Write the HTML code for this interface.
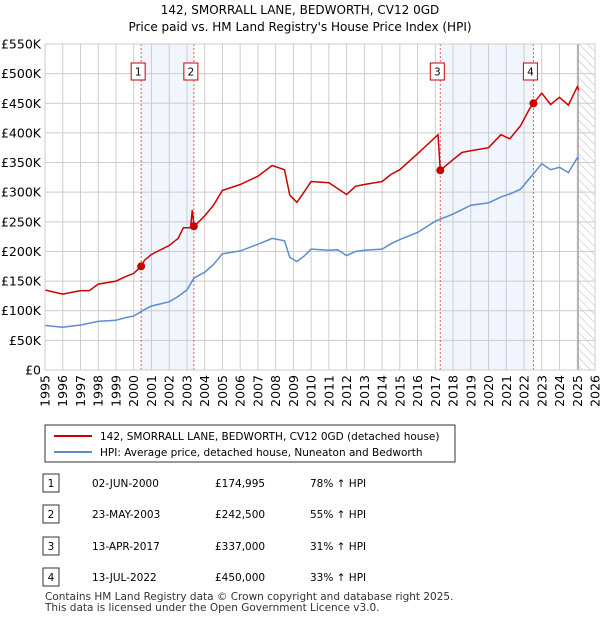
<!DOCTYPE html>
<html><head><meta charset="utf-8"><style>
body{margin:0;background:#fff;font-family:"Liberation Sans","DejaVu Sans",sans-serif;}
svg text{font-family:"DejaVu Sans","Liberation Sans",sans-serif;}
</style></head><body>
<svg width="600" height="620" viewBox="0 0 600 620" xmlns="http://www.w3.org/2000/svg">
<defs><pattern id="hatch" width="6" height="6" patternUnits="userSpaceOnUse" patternTransform="rotate(-45)"><line x1="0" y1="0" x2="0" y2="6" stroke="#bbb" stroke-width="1"/></pattern></defs>
<text x="300" y="14" font-size="12" text-anchor="middle">142, SMORRALL LANE, BEDWORTH, CV12 0GD</text>
<text x="300" y="31" font-size="12" text-anchor="middle">Price paid vs. HM Land Registry's House Price Index (HPI)</text>
<g id="plot"></g>
<g>
<rect x="45" y="425" width="410" height="37" fill="#fff" stroke="#333" stroke-width="1"/>
<line x1="54" y1="436" x2="92" y2="436" stroke="#cc0000" stroke-width="2"/>
<text x="100" y="440" font-size="10.5">142, SMORRALL LANE, BEDWORTH, CV12 0GD (detached house)</text>
<line x1="54" y1="452" x2="92" y2="452" stroke="#5b8bd0" stroke-width="2"/>
<text x="100" y="456" font-size="10.5">HPI: Average price, detached house, Nuneaton and Bedworth</text>
</g>
<g id="table" font-size="10.5"></g>
<text x="45" y="600" font-size="10.5" fill="#333">Contains HM Land Registry data © Crown copyright and database right 2025.</text>
<text x="45" y="611" font-size="10.5" fill="#333">This data is licensed under the Open Government Licence v3.0.</text>
</svg>
<script>
const hpiYears=[1995,1996,1997,1997.5,1998,1999,1999.5,2000,2000.5,2001,2002,2002.5,2003,2003.4,2004,2004.5,2005,2006,2007,2007.8,2008.5,2008.8,2009.2,2009.6,2010,2011,2011.5,2012,2012.5,2013,2014,2014.5,2015,2016,2017,2018,2019,2020,2020.7,2021.2,2021.8,2022.5,2023,2023.5,2024,2024.5,2025,2025.1];
const hpiValues=[75,72,76,79,82,84,88,91,100,108,115,124,135,155,165,178,196,201,212,222,218,190,183,192,204,202,203,193,200,202,204,213,220,232,251,263,278,282,292,297,305,330,348,338,342,333,358,356];
const priceYears=[1995,1996,1997,1997.5,1998,1999,1999.5,2000,2000.42,2000.6,2001,2002,2002.5,2002.8,2003.2,2003.3,2003.4,2004,2004.5,2005,2006,2007,2007.8,2008.5,2008.8,2009.2,2009.6,2010,2011,2012,2012.5,2013,2014,2014.5,2015,2016,2017.15,2017.28,2018,2018.5,2019,2020,2020.7,2021.2,2021.8,2022.3,2022.53,2023,2023.5,2024,2024.5,2025,2025.1];
const priceValues=[135,128,134,134,145,150,157,163,175,185,195,210,222,240,240,270,242,260,278,303,313,327,345,338,295,283,300,318,316,296,310,313,318,330,338,365,397,337,355,367,370,375,397,390,412,440,450,467,448,460,447,478,472];
const saleLabels=["1","2","3","4"];
const saleYears=[2000.42,2003.39,2017.28,2022.53];
const saleValues=[174.995,242.5,337,450];
const saleDates=["02-JUN-2000","23-MAY-2003","13-APR-2017","13-JUL-2022"];
const salePrices=["£174,995","£242,500","£337,000","£450,000"];
const saleHpi=["78% ↑ HPI","55% ↑ HPI","31% ↑ HPI","33% ↑ HPI"];
const yTicks=[0,50,100,150,200,250,300,350,400,450,500,550];
const xTicks=[1995,1996,1997,1998,1999,2000,2001,2002,2003,2004,2005,2006,2007,2008,2009,2010,2011,2012,2013,2014,2015,2016,2017,2018,2019,2020,2021,2022,2023,2024,2025,2026];
const X0=45,X1=595,Y0=370,Y1=44;
const xs=y=>X0+(y-1995)/(2026-1995)*(X1-X0);
const ys=v=>Y0-v/550*(Y0-Y1);
const NS="http://www.w3.org/2000/svg";
const plot=document.getElementById('plot');
function mk(tag,attrs,parent){const e=document.createElementNS(NS,tag);for(const k in attrs)e.setAttribute(k,attrs[k]);(parent||plot).appendChild(e);return e;}
let s1=mk('rect',{x:xs(saleYears[0]),y:Y1,width:xs(saleYears[1])-xs(saleYears[0]),height:Y0-Y1,fill:'#eef3fc',opacity:0.8});


let s2=mk('rect',{x:xs(saleYears[2]),y:Y1,width:xs(saleYears[3])-xs(saleYears[2]),height:Y0-Y1,fill:'#eef3fc',opacity:0.8});


let h=mk('rect',{x:xs(2025.05),y:Y1,width:X1-xs(2025.05),height:Y0-Y1,fill:'url(#hatch)'});


yTicks.forEach(v=>{
 let l=mk('line',{x1:X0,x2:X1,y1:ys(v),y2:ys(v),stroke:'#ccc','stroke-width':1});
 
 
 let t=mk('text',{x:X0-4,y:ys(v)+4.5,'font-size':12.5,'text-anchor':'end'});
 t.textContent=v===0?'£0':'£'+v+'K';
 
 
});
xTicks.forEach(y=>{
 let l=mk('line',{x1:xs(y),x2:xs(y),y1:Y1,y2:Y0,stroke:'#ccc','stroke-width':1});
 
 
 let t=mk('text',{x:0,y:0,'font-size':12.5,'text-anchor':'end',transform:`translate(${xs(y)+4.5},${Y0+5}) rotate(-90)`});
 t.textContent=y;
 
 
});
let vl=mk('line',{x1:xs(2025.05),x2:xs(2025.05),y1:Y1,y2:Y0,stroke:'#888','stroke-width':1});


saleYears.forEach((y,i)=>{
 let l=mk('line',{x1:xs(y),x2:xs(y),y1:Y1,y2:Y0,stroke:'#e55','stroke-width':1,'stroke-dasharray':'2,2'});
 
 
});
function pathOf(xa,va){return xa.map((y,i)=>(i?'L':'M')+xs(y).toFixed(1)+','+ys(va[i]).toFixed(1)).join('');}
let hp=mk('path',{d:pathOf(hpiYears,hpiValues),fill:'none',stroke:'#5b8bd0','stroke-width':1.5});


let pp=mk('path',{d:pathOf(priceYears,priceValues),fill:'none',stroke:'#cc0000','stroke-width':1.5});


saleYears.forEach((y,i)=>{
 let c=mk('circle',{cx:xs(y),cy:ys(saleValues[i]),r:4,fill:'#cc0000'});
 
 
 let b=mk('rect',{x:xs(y)-10,y:63,width:14,height:17,fill:'#fff',stroke:'#cc0000'});
 
 
 let t=mk('text',{x:xs(y)-3,y:75.5,'font-size':10.5,'text-anchor':'middle'});
 t.textContent=saleLabels[i];
 
 
});
let fr=mk('rect',{x:X0,y:Y1,width:X1-X0,height:Y0-Y1,fill:'none',stroke:'#ccc'});


const tb=document.getElementById('table');
const rowY=[483,514,546,577];
saleLabels.forEach((lab,i)=>{
 let y=rowY[i];
 let g=mk('g',{},tb);
 
 
 let r=mk('rect',{x:43,y:y-9,width:16,height:18,fill:'#fff',stroke:'#333'},g);
 
 
 let texts=[[51,lab,'middle'],[92,saleDates[i],'start'],[215,salePrices[i],'start'],[310,saleHpi[i],'start']];
 texts.forEach(([x,s,a],j)=>{
  let t=mk('text',{x:x,y:y+4,'text-anchor':a},g);
  t.textContent=s;
  
  
 });
});
</script>
</body></html>
